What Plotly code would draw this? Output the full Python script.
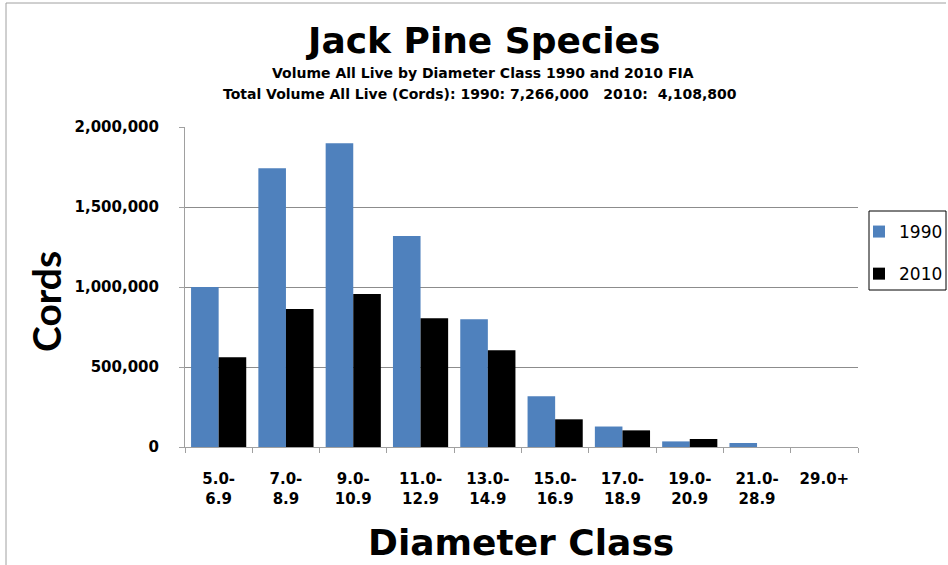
import plotly.graph_objects as go

categories = ["5.0-<br>6.9", "7.0-<br>8.9", "9.0-<br>10.9", "11.0-<br>12.9", "13.0-<br>14.9",
              "15.0-<br>16.9", "17.0-<br>18.9", "19.0-<br>20.9", "21.0-<br>28.9", "29.0+"]
vol_1990 = [1000000, 1742000, 1899000, 1319000, 799000, 317000, 128000, 35000, 25000, 0]
vol_2010 = [561000, 862000, 956000, 805000, 605000, 173000, 104000, 50000, 0, 0]
y_ticks = [0, 500000, 1000000, 1500000, 2000000]
y_tick_labels = ["0", "500,000", "1,000,000", "1,500,000", "2,000,000"]

L, R, T, B = 185, 90, 127, 118
W, H = 948, 565
PW, PH = W - L - R, H - T - B


def px(x):
    return (x - L) / PW


def py(y):
    return (H - B - y) / PH


fig = go.Figure()
fig.add_trace(go.Bar(x=categories, y=vol_1990, name="1990", marker_color="#4F81BD",
                     marker_line_width=0, legendgroup="a"))
fig.add_trace(go.Bar(x=categories, y=vol_2010, name="2010", marker_color="#000000",
                     marker_line_width=0, legendgroup="b"))

HF = "DejaVu Sans"


def ann(text, x, y, font, size, angle=0):
    return dict(text=text, x=px(x), y=py(y), xref="paper", yref="paper",
                xanchor="center", yanchor="middle", showarrow=False, textangle=angle,
                font=dict(family=font, size=size, color="#000"))


fig.update_layout(
    width=W, height=H,
    margin=dict(l=L, r=R, t=T, b=B, autoexpand=False),
    paper_bgcolor="white", plot_bgcolor="white",
    barmode="group", bargap=0.18, bargroupgap=0,
    showlegend=True,
    legend=dict(x=px(859), y=py(214), xanchor="left", yanchor="top",
                borderwidth=0, bgcolor="rgba(0,0,0,0)",
                font=dict(family="DejaVu Sans", size=17, color="#000"),
                tracegroupgap=17, itemwidth=30),
    xaxis=dict(tickfont=dict(family=HF, size=15, color="#000", weight="bold"),
               showline=True, linecolor="#A0A0A0", linewidth=1,
               ticks="outside", ticklen=5, tickcolor="#A0A0A0", tickson="boundaries",
               ticklabelstandoff=18, showgrid=False),
    yaxis=dict(range=[0, 2000000], tickvals=y_ticks, ticktext=y_tick_labels,
               tickfont=dict(family=HF, size=15, color="#000", weight="bold"),
               showline=True, linecolor="#A0A0A0", linewidth=1,
               ticks="outside", ticklen=5, tickcolor="#A0A0A0",
               ticklabelstandoff=17,
               showgrid=True, gridcolor="#8C8C8C", gridwidth=1, zeroline=False),
    annotations=[
        ann("<b>Jack Pine Species</b>", 482, 41, HF, 36),
        ann("<b>Volume All Live by Diameter Class 1990 and 2010 FIA</b>", 483, 73, HF, 14),
        ann("<b>Total Volume All Live (Cords): 1990: 7,266,000&nbsp;&nbsp; 2010:&nbsp; 4,108,800</b>",
            480, 94, HF, 14),
        ann("<b>Cords</b>", 46, 302, "Lato", 39, -90),
        ann("<b>Diameter Class</b>", 521, 542, HF, 36),
    ],
    shapes=[
        dict(type="line", xref="paper", yref="paper", x0=px(6), x1=px(6), y0=py(3), y1=py(570),
             line=dict(color="#A0A0A0", width=1)),
        dict(type="line", xref="paper", yref="paper", x0=px(6), x1=px(946), y0=py(3), y1=py(3),
             line=dict(color="#A0A0A0", width=1)),
        dict(type="rect", xref="paper", yref="paper", x0=px(869), x1=px(946), y0=py(211), y1=py(290),
             line=dict(color="#000000", width=1), fillcolor="white", layer="below"),
    ],
)

fig.write_html("out.html", config={"displayModeBar": False},
               post_script="document.body.style.margin='0';document.body.style.overflow='hidden';")
